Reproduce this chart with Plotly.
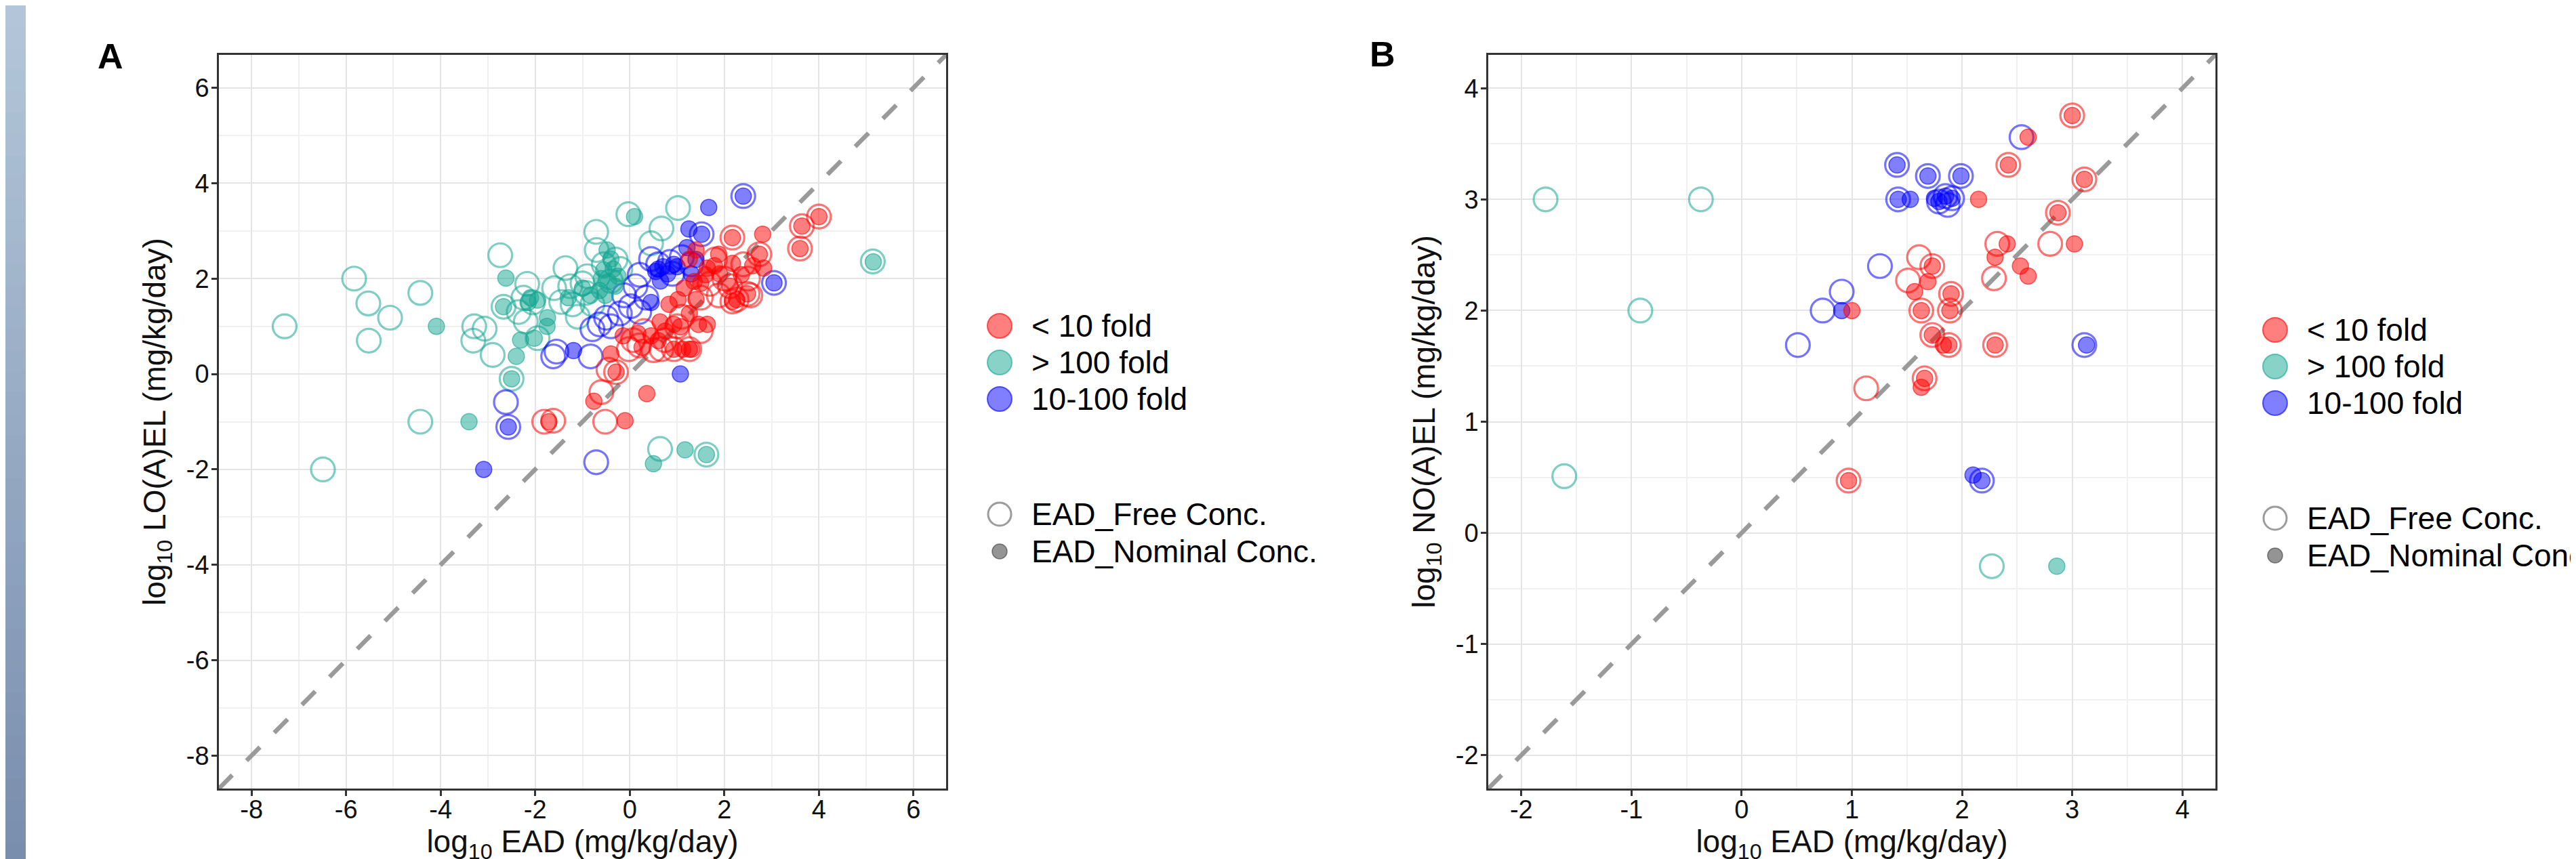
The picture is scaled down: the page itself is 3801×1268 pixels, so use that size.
import plotly.graph_objects as go

# ---------------- data ----------------
# Panel A : log10 EAD vs log10 LO(A)EL
A_gt100_free_x = [-7.3, -5.83, -5.53, -5.07, -5.52, -4.43, -4.43, -6.49, -3.29, -3.07, -3.31, -2.9, -2.74, -2.67,
                  -2.5, -2.17, -2.25, -2.05, -2.2, -1.95, -1.36, -1.26, -1.6, -1.45, -1.21, -0.93, -0.79, -1.0,
                  -0.71, -0.7, -0.3, -0.2, -0.55, -0.03, 0.45, 0.67, 1.02, 5.14, 0.64, 1.62, -1.1, -0.4, -2.35, -0.9]
A_gt100_free_y = [1.0, 2.0, 1.48, 1.18, 0.7, 1.7, -1.0, -2.0, 1.0, 0.95, 0.7, 0.4, 2.49, 1.41,
                  -0.1, 1.89, 1.6, 1.5, 1.1, 0.75, 2.22, 1.84, 1.8, 1.51, 1.46, 1.7, 1.46, 1.9,
                  2.98, 2.6, 2.4, 2.2, 2.3, 3.35, 2.74, 3.05, 3.48, 2.36, -1.57, -1.69, 1.2, 1.95, 1.3, 2.05]
A_gt100_nom_x = [-4.09, -3.4, -2.62, -2.67, -2.5, -2.31, -2.02, -2.4, -1.74, -1.75, -2.1, -1.95, -2.15, -0.48,
                 -0.4, -0.55, -0.45, -0.31, -0.64, -0.83, -0.52, -0.35, -0.6, 0.1, 5.15, 0.5, 1.17, 1.62, -1.3,
                 -1.0, -0.25]
A_gt100_nom_y = [1.0, -1.0, 2.01, 1.41, -0.1, 0.71, 0.75, 0.37, 1.18, 1.0, 1.6, 1.55, 1.5, 2.6,
                 2.41, 2.18, 1.94, 1.84, 1.75, 1.65, 1.65, 2.2, 2.0, 3.3, 2.35, -1.88, -1.59, -1.69, 1.6,
                 1.8, 2.05]
A_mid_free_x = [-2.62, -2.57, -1.55, -1.62, -0.83, -0.71, -0.64, -0.79, -0.5, -0.21, 0.02, -0.12, 0.12, 0.21,
                0.45, 0.35, 0.6, 0.85, 1.1, 1.52, 2.4, 3.05, -0.4, 0.2, 0.9, 1.3]
A_mid_free_y = [-0.59, -1.11, 0.47, 0.37, 0.37, -1.85, 1.04, 0.94, 1.18, 1.27, 1.42, 1.65, 1.84, 2.08,
                2.41, 1.6, 2.3, 2.35, 2.45, 2.93, 3.73, 1.91, 1.0, 1.3, 2.1, 2.3]
A_mid_nom_x = [-3.09, -2.57, -1.19, 1.07, 1.67, 1.25, 1.52, 2.4, 3.05, 0.55, 0.7, 0.8, 0.93, 1.21, 1.4, 0.45,
               0.65, 1.0, 1.3, 0.6]
A_mid_nom_y = [-2.0, -1.11, 0.49, 0.0, 3.49, 3.04, 2.93, 3.73, 1.91, 2.15, 2.25, 2.1, 2.3, 2.65, 2.4, 1.5,
               1.95, 2.25, 2.1, 2.2]
A_lt10_free_x = [-1.81, -1.62, -0.52, -0.6, -0.45, -0.29, 0.07, -0.02, 0.74, 0.67, 0.93, 1.26, 1.88, 2.12,
                 2.26, 2.55, 2.74, 1.69, 2.17, 3.64, 3.6, 4.0, 2.49, 2.17, 0.3, 1.1, 1.5, 2.0, 2.4, 1.8, 0.5,
                 1.5, 2.5, 0.2, 1.0]
A_lt10_free_y = [-1.0, -0.98, -1.0, -0.38, 0.09, 0.04, 0.71, 0.52, 0.71, 0.52, 0.52, 0.52, 1.65, 1.84,
                 1.56, 1.65, 2.51, 1.89, 2.86, 3.1, 2.63, 3.3, 1.68, 1.52, 0.9, 1.2, 1.6, 2.0, 2.3, 2.4, 0.5,
                 0.9, 2.0, 0.6, 1.0]
A_lt10_nom_x = [-1.71, -0.1, -0.76, 0.36, -0.29, -0.4, -0.14, 0.26, 0.45, 0.17, 0.64, 0.93, 1.12, 1.31, 0.83,
                1.02, 0.93, 1.07, 1.26, 1.45, 1.64, 1.4, 1.36, 1.6, 1.79, 1.88, 2.17, 2.12, 2.26, 2.6, 2.74,
                2.36, 2.83, 1.26, 1.4, 1.64, 2.17, 2.81, 3.64, 3.6, 4.0, 2.49, 2.17, 1.26, 0.6, 1.15, 1.5,
                1.9, 0.75]
A_lt10_nom_y = [-1.0, -0.98, -0.57, -0.41, 0.04, 0.42, 0.8, 0.56, 0.8, 0.85, 1.09, 0.52, 0.52, 0.52, 1.46,
                1.56, 1.04, 0.99, 1.27, 1.04, 1.04, 1.56, 1.94, 2.08, 2.27, 2.51, 2.32, 1.84, 1.56, 2.27, 2.51,
                2.08, 2.22, 2.41, 2.6, 2.22, 2.86, 2.93, 3.1, 2.63, 3.3, 1.68, 1.52, 0.52, 0.7, 1.8, 1.9,
                2.1, 0.9]

# Panel B : log10 EAD vs log10 NO(A)EL
B_gt100_free_x = [-1.78, -0.37, -0.92, -1.61, 2.27]
B_gt100_free_y = [3.0, 3.0, 2.0, 0.51, -0.3]
B_gt100_nom_x = [2.86]
B_gt100_nom_y = [-0.3]
B_mid_free_x = [1.41, 1.69, 1.99, 1.42, 1.79, 1.85, 1.91, 1.87, 2.54, 1.255, 0.908, 0.735, 0.51, 3.11, 2.18]
B_mid_free_y = [3.31, 3.21, 3.21, 3.0, 2.98, 3.03, 3.01, 2.95, 3.56, 2.4, 2.17, 2.0, 1.69, 1.69, 0.47]
B_mid_nom_x = [1.41, 1.69, 1.99, 1.42, 1.53, 1.79, 1.85, 1.75, 1.91, 0.908, 3.13, 2.1, 2.18]
B_mid_nom_y = [3.31, 3.21, 3.21, 3.0, 3.0, 2.98, 3.03, 3.01, 3.01, 2.0, 1.69, 0.52, 0.47]
B_lt10_free_x = [3.0, 2.42, 3.11, 2.87, 2.8, 2.32, 2.29, 1.61, 1.73, 1.51, 1.9, 1.63, 1.89, 1.73, 1.88, 2.3,
                 1.13, 1.66, 0.97]
B_lt10_free_y = [3.755, 3.31, 3.18, 2.88, 2.6, 2.6, 2.29, 2.48, 2.4, 2.27, 2.15, 2.0, 2.0, 1.78, 1.69, 1.69,
                 1.3, 1.39, 0.47]
B_lt10_nom_x = [3.0, 2.6, 2.42, 3.11, 2.15, 2.87, 3.02, 2.41, 2.3, 2.53, 2.6, 1.73, 1.69, 1.57, 1.9, 1.63,
                1.89, 1.0, 1.73, 1.83, 1.88, 2.3, 1.66, 1.63, 0.97]
B_lt10_nom_y = [3.755, 3.56, 3.31, 3.18, 3.0, 2.88, 2.6, 2.6, 2.48, 2.4, 2.31, 2.4, 2.26, 2.17, 2.15, 2.0,
                2.0, 2.0, 1.78, 1.69, 1.69, 1.69, 1.39, 1.31, 0.47]

# axes
A_range = [-8.69, 6.69]
B_range = [-2.3, 4.3]
A_ticks = [-8, -6, -4, -2, 0, 2, 4, 6]
A_ticktext = ["-8", "-6", "-4", "-2", "0", "2", "4", "6"]
B_ticks = [-2, -1, 0, 1, 2, 3, 4]
B_ticktext = ["-2", "-1", "0", "1", "2", "3", "4"]

group_names = ["< 10 fold", "> 100 fold", "10-100 fold"]
type_names = ["EAD_Free Conc.", "EAD_Nominal Conc."]
x_title = "log<sub>10</sub> EAD (mg/kg/day)"
yA_title = "log<sub>10</sub> LO(A)EL (mg/kg/day)"
yB_title = "log<sub>10</sub> NO(A)EL (mg/kg/day)"

# ---------------- style ----------------
W, H = 3801, 1268
FONT = "Liberation Sans, Arial, Helvetica, sans-serif"
COL = {"lt10": (255, 0, 0), "gt100": (20, 165, 145), "mid": (0, 0, 255)}
ALPHA = 0.5


def rgba(c, a):
    return "rgba(%d,%d,%d,%.2f)" % (c[0], c[1], c[2], a)


fig = go.Figure()

panels = {
    "A": dict(xa="x", ya="y", data={
        "gt100": (A_gt100_free_x, A_gt100_free_y, A_gt100_nom_x, A_gt100_nom_y),
        "mid": (A_mid_free_x, A_mid_free_y, A_mid_nom_x, A_mid_nom_y),
        "lt10": (A_lt10_free_x, A_lt10_free_y, A_lt10_nom_x, A_lt10_nom_y)}, rng=A_range),
    "B": dict(xa="x2", ya="y2", data={
        "gt100": (B_gt100_free_x, B_gt100_free_y, B_gt100_nom_x, B_gt100_nom_y),
        "mid": (B_mid_free_x, B_mid_free_y, B_mid_nom_x, B_mid_nom_y),
        "lt10": (B_lt10_free_x, B_lt10_free_y, B_lt10_nom_x, B_lt10_nom_y)}, rng=B_range),
}

for key, p in panels.items():
    lo, hi = p["rng"]
    fig.add_trace(go.Scatter(x=[lo, hi], y=[lo, hi], mode="lines", xaxis=p["xa"], yaxis=p["ya"],
                             line=dict(color="#9a9a9a", width=6.5, dash="28px,30px"),
                             showlegend=False, hoverinfo="skip"))
    for g in ["gt100", "mid", "lt10"]:
        fx, fy, nx, ny = p["data"][g]
        fig.add_trace(go.Scatter(x=fx, y=fy, mode="markers", xaxis=p["xa"], yaxis=p["ya"], showlegend=False,
                                 marker=dict(symbol="circle-open", size=35, color=rgba(COL[g], 0.55),
                                             line=dict(width=3.2, color=rgba(COL[g], 0.55)))))
    for g in ["gt100", "mid", "lt10"]:
        fx, fy, nx, ny = p["data"][g]
        fig.add_trace(go.Scatter(x=nx, y=ny, mode="markers", xaxis=p["xa"], yaxis=p["ya"], showlegend=False,
                                 marker=dict(symbol="circle", size=24, color=rgba(COL[g], ALPHA),
                                             line=dict(width=1.5, color=rgba(COL[g], 0.6)))))

axis_common = dict(showline=True, mirror=True, linecolor="#333333", linewidth=2.5,
                   ticks="outside", ticklen=8, tickwidth=2.5, tickcolor="#333333",
                   tickfont=dict(family=FONT, size=38, color="#111111"),
                   showgrid=True, gridcolor="#e4e4e4", gridwidth=2, zeroline=False,
                   title_font=dict(family=FONT, size=46, color="#111111"))
xaxis_extra = dict(ticklabelstandoff=-12, title_standoff=6)
yaxis_extra = dict(ticklabelstandoff=-4, title_standoff=16)

dom_y = [1 - 1156 / H, 1 - 73 / H]
fig.update_layout(
    width=W, height=H, autosize=False,
    margin=dict(l=0, r=0, t=0, b=0),
    paper_bgcolor="white", plot_bgcolor="white",
    xaxis=dict(domain=[315 / W, 1388 / W], range=A_range, anchor="y", tickvals=A_ticks, ticktext=A_ticktext,
               minor=dict(dtick=1, tick0=0, showgrid=True, gridcolor="#f0f0f0", gridwidth=1.5),
               title_text=x_title, **xaxis_extra, **axis_common),
    yaxis=dict(domain=dom_y, range=A_range, anchor="x", tickvals=A_ticks, ticktext=A_ticktext,
               minor=dict(dtick=1, tick0=0, showgrid=True, gridcolor="#f0f0f0", gridwidth=1.5),
               title_text=yA_title, **yaxis_extra, **axis_common),
    xaxis2=dict(domain=[2188 / W, 3261 / W], range=B_range, anchor="y2", tickvals=B_ticks, ticktext=B_ticktext,
                minor=dict(dtick=0.5, tick0=0, showgrid=True, gridcolor="#f0f0f0", gridwidth=1.5),
                title_text=x_title, **xaxis_extra, **axis_common),
    yaxis2=dict(domain=dom_y, range=B_range, anchor="x2", tickvals=B_ticks, ticktext=B_ticktext,
                minor=dict(dtick=0.5, tick0=0, showgrid=True, gridcolor="#f0f0f0", gridwidth=1.5),
                title_text=yB_title, **yaxis_extra, **axis_common),
    showlegend=False,
)

shapes = []
annotations = []

# left decorative gradient strip
N = 40
top_c, bot_c = (180, 199, 218), (121, 142, 173)
for i in range(N):
    t = (i + 0.5) / N
    c = tuple(int(top_c[k] + (bot_c[k] - top_c[k]) * t) for k in range(3))
    shapes.append(dict(type="rect", xref="paper", yref="paper", x0=0, x1=30 / W,
                       y0=1 - (i + 1) / N - 0.001, y1=1 - i / N, fillcolor="rgb(%d,%d,%d)" % c,
                       line=dict(width=0), layer="below"))

# panel letters
for letter, px, py in [("A", 155, 75), ("B", 2032, 72)]:
    annotations.append(dict(text="<b>%s</b>" % letter, x=px / W, y=1 - py / H, xref="paper", yref="paper",
                            showarrow=False, xanchor="center", yanchor="middle",
                            font=dict(family=FONT, size=52, color="black")))


# manual legends (two blocks per panel)
def circle(cx, cy, r, fill, line_col, lw):
    return dict(type="circle", xref="paper", yref="paper", xsizemode="pixel", ysizemode="pixel",
                xanchor=cx / W, yanchor=1 - cy / H, x0=-r, x1=r, y0=-r, y1=r,
                fillcolor=fill, line=dict(color=line_col, width=lw))


for lx, ly0, ly1 in [(1467, 473, 751), (3349, 479, 757)]:
    for i, g in enumerate(["lt10", "gt100", "mid"]):
        cy = ly0 + i * 54
        shapes.append(circle(lx, cy, 18, rgba(COL[g], 0.5), rgba(COL[g], 0.6), 2))
        annotations.append(dict(text=group_names[i], x=(lx + 45) / W, y=1 - cy / H, xref="paper", yref="paper",
                                showarrow=False, xanchor="left", yanchor="middle",
                                font=dict(family=FONT, size=46, color="black")))
    shapes.append(circle(lx, ly1, 17, "rgba(255,255,255,0)", "rgba(90,90,90,0.6)", 3))
    shapes.append(circle(lx, ly1 + 55, 11, "rgba(60,60,60,0.55)", "rgba(60,60,60,0.6)", 1.5))
    for j, tname in enumerate(type_names):
        annotations.append(dict(text=tname, x=(lx + 45) / W, y=1 - (ly1 + 55 * j) / H, xref="paper",
                                yref="paper", showarrow=False, xanchor="left", yanchor="middle",
                                font=dict(family=FONT, size=46, color="black")))

fig.update_layout(shapes=shapes, annotations=annotations)
fig.write_html("out.html")
